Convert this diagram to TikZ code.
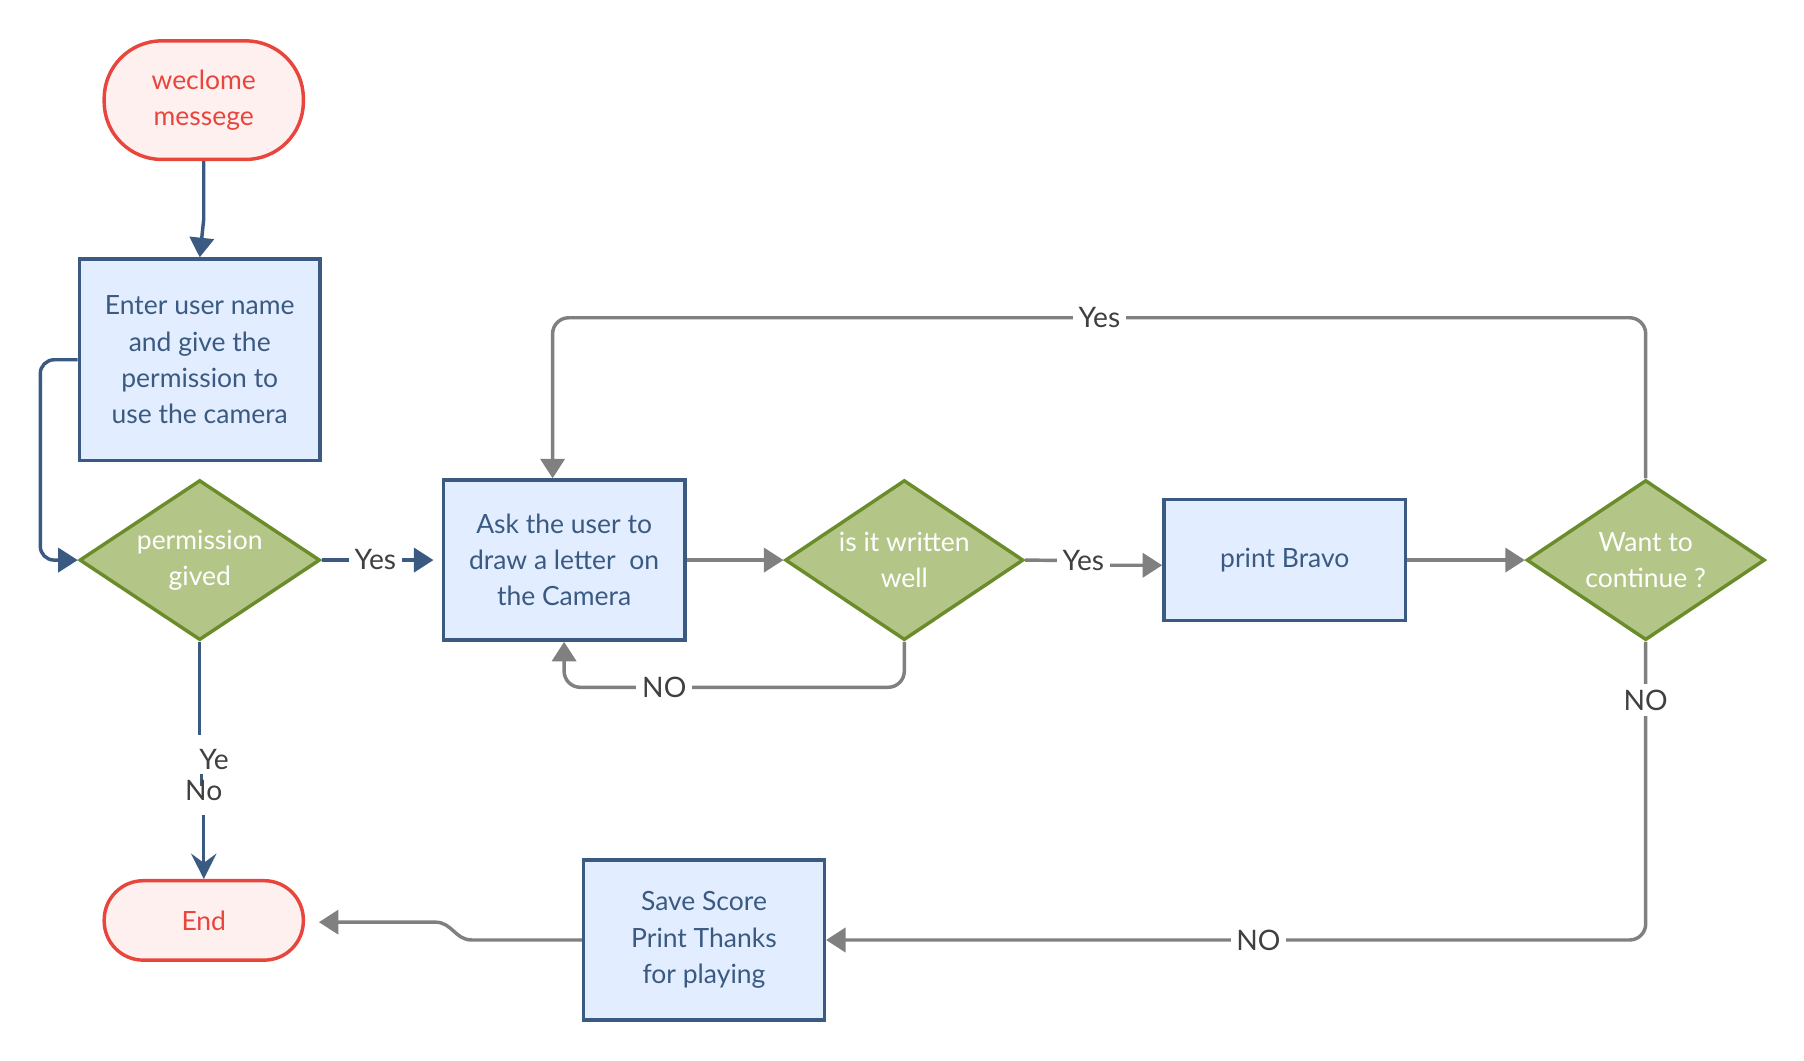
\documentclass[tikz,border=0pt]{standalone}
\usepackage{fontspec}
\setmainfont{Lato}
\usetikzlibrary{arrows.meta,shapes.geometric,calc}
\definecolor{navy}{HTML}{3B5A82}
\definecolor{boxfill}{HTML}{E2EEFF}
\definecolor{dfill}{HTML}{B3C688}
\definecolor{dline}{HTML}{6B8C2A}
\definecolor{tfill}{HTML}{FFF0F0}
\definecolor{tline}{HTML}{E8453C}
\definecolor{gline}{HTML}{808080}
\definecolor{ltext}{HTML}{404040}
\begin{document}
\begin{tikzpicture}[x=1pt,y=-1pt,
  txt/.style={font=\fontsize{23}{31.5}\selectfont, align=center},
  procbox/.style={txt, draw=navy, fill=boxfill, line width=3pt, text=navy, inner sep=0pt},
  decis/.style={txt, diamond, aspect=1.5, draw=dline, fill=dfill, line width=3pt, text=white, inner sep=0pt},
  termin/.style={txt, draw=tline, fill=tfill, line width=3pt, text=tline, inner sep=0pt},
  nline/.style={draw=navy, line width=3pt},
  gray line/.style={draw=gline, line width=3pt},
  tip/.style={-{Triangle[length=17pt,width=21pt]}},
  lbl/.style={font=\fontsize{24.5}{28}\selectfont, text=ltext, fill=white, inner sep=5pt},
  lbltx/.style={font=\fontsize{24.5}{28}\selectfont, text=ltext, inner sep=0pt}]
\useasboundingbox (0,0) rectangle (1567,921);

% nodes
\node[termin, minimum width=173pt, minimum height=103pt, rounded corners=50pt] (welcome) at (177,87) {weclome\\messege};
\node[procbox, minimum width=209pt, minimum height=175pt] (enter) at (173.5,312.5) {Enter user name\\and give the\\permission to\\use the camera};
\node[decis, minimum width=209pt, minimum height=139pt] (perm) at (173.5,486.5) {permission\\gived};
\node[procbox, minimum width=210pt, minimum height=139pt] (ask) at (490,486.5) {Ask the user to\\draw a letter\ \ on\\the Camera};
\node[decis, minimum width=207pt, minimum height=139pt] (isw) at (785.5,486.5) {is it written\\well};
\node[procbox, minimum width=210pt, minimum height=105pt] (bravo) at (1116,486.5) {print Bravo};
\node[decis, minimum width=207pt, minimum height=139pt] (want) at (1429.5,486.5) {Want to\\continue ?};
\node[procbox, minimum width=209pt, minimum height=139pt] (save) at (611.5,816.5) {Save Score\\Print Thanks\\for playing};
\node[termin, minimum width=173pt, minimum height=69pt, rounded corners=34pt] (end) at (177,799.5) {End};

% coordinates
\coordinate (w1) at (177,190);
\coordinate (e1) at (35,312.5);
\coordinate (e2) at (35,486.5);
\coordinate (p1) at (173.5,638);
\coordinate (p2) at (177,708);
\coordinate (i1) at (785.5,597);
\coordinate (i2) at (490,597);
\coordinate (y1) at (941,487);
\coordinate (y2) at (941,491);
\coordinate (t1) at (1429.5,276);
\coordinate (t2) at (480,276);
\coordinate (n1) at (1429.5,816.5);
\coordinate (s1) at (410,816.5);
\coordinate (s2) at (378,801);
\coordinate (g1) at (175,672);
\coordinate (g2) at (175,683);

% navy connectors
\draw[nline, tip] (welcome.south) -- (w1) -- (enter.north);
\draw[nline, tip, rounded corners=12pt] (enter.west) -- (e1) -- (e2) -- (perm.west);
\draw[nline, tip] (perm.east) -- ($(ask.west)+(-7,0)$);
\draw[nline] (perm.south) -- (p1);
\draw[nline, -{Stealth[length=22pt,width=22pt,inset=8pt]}] (p2) -- (end.north);
\draw[navy, line width=2pt] (g1) -- (g2);

% gray connectors
\draw[gray line, tip] (ask.east) -- (isw.west);
\draw[gray line, tip, rounded corners=14pt] (isw.south) -- (i1) -- (i2) -- (ask.south);
\draw[gray line, tip] (isw.east) -- (y1) -- (y2) -- ($(bravo.west)+(0,4.5)$);
\draw[gray line, tip] (bravo.east) -- (want.west);
\draw[gray line, tip, rounded corners=14pt] (want.north) -- (t1) -- (t2) -- ($(ask.north)+(-10,0)$);
\draw[gray line, tip, rounded corners=14pt] (want.south) -- (n1) -- (save.east);
\draw[gray line, tip] (save.west) -- (s1) .. controls (395,816.5) and (393,801) .. (s2) -- ($(end.east)+(12,1.5)$);

% labels
\node[lbl] at (326,486) {Yes};
\node[lbl] at (577,597) {NO};
\node[lbl] at (941,487) {Yes};
\node[lbl] at (955,276) {Yes};
\node[lbl] at (1429.5,608) {NO};
\node[lbl] at (1093,816.5) {NO};
\node[lbltx] at (186,660) {Ye};
\node[lbltx] at (177,687) {No};
\end{tikzpicture}
\end{document}
